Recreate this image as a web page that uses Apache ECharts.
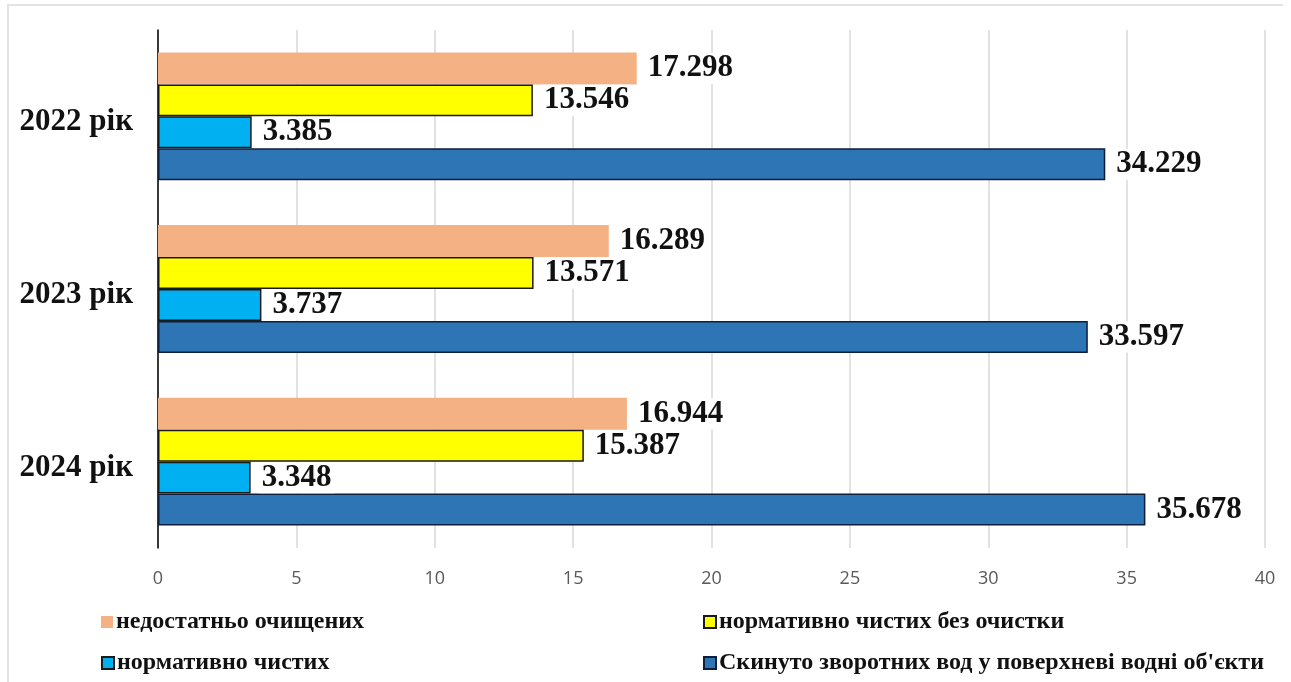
<!DOCTYPE html>
<html><head><meta charset="utf-8">
<script src="https://cdn.jsdelivr.net/npm/echarts@6/dist/echarts.min.js"></script>
<style>html,body{margin:0;padding:0;background:#fff}#c{width:1291px;height:682px}</style>
</head><body><div id="c"></div>
<script>
const categories = ['2022 рік', '2023 рік', '2024 рік'];
const seriesNames = ['недостатньо очищених', 'нормативно чистих без очистки', 'нормативно чистих', 'Скинуто зворотних вод у поверхневі водні об\'єкти'];
const insufficientlyTreated = [17.298, 16.289, 16.944];
const normCleanNoTreatment = [13.546, 13.571, 15.387];
const normClean = [3.385, 3.737, 3.348];
const totalDischarged = [34.229, 33.597, 35.678];
const xTicks = [0, 5, 10, 15, 20, 25, 30, 35, 40];

const colors = ['#F4B183', '#FFFF00', '#00B0F0', '#2E75B6'];
const borders = [null, '#1a1a1a', '#1a1a1a', '#0d1f3a'];
const dataSets = [insufficientlyTreated, normCleanNoTreatment, normClean, totalDischarged];
const serif = '"Liberation Serif","Times New Roman",serif';

const chart = echarts.init(document.getElementById('c'));
const series = seriesNames.map((n, i) => ({
  name: n, type: 'bar', data: dataSets[i],
  barGap: '0%', barCategoryGap: '26%',
  itemStyle: { color: colors[i], borderColor: borders[i] || colors[i], borderWidth: borders[i] ? 1.5 : 0 },
  label: {
    show: true, position: 'right', distance: 8,
    fontFamily: serif, fontWeight: 'bold', fontSize: 31, color: '#111',
    backgroundColor: '#fff', padding: [0, 3, 0, 3],
    formatter: p => p.value.toFixed(3)
  }
}));
const legendPos = [
  { left: 96, top: 605 }, { left: 698, top: 605 },
  { left: 96, top: 646 }, { left: 698, top: 646 }
];
const legends = seriesNames.map((n, i) => ({
  data: [n], left: legendPos[i].left, top: legendPos[i].top,
  itemWidth: 12, itemHeight: 12, itemGap: 0,
  icon: 'rect',
  textStyle: { fontFamily: serif, fontWeight: 'bold', fontSize: 24, color: '#111', padding: [0, 0, 0, -2] },
  selectedMode: false
}));
chart.setOption({
  animation: false,
  backgroundColor: '#fff',
  grid: { left: 158, right: 26, top: 30, bottom: 134, containLabel: false },
  xAxis: {
    type: 'value', min: 0, max: 40, interval: 5,
    axisLine: { show: false }, axisTick: { show: false },
    splitLine: { lineStyle: { color: '#d9d9d9', width: 1.5 } },
    axisLabel: { fontFamily: '"Open Sans","Liberation Sans",sans-serif', fontSize: 18, color: '#595959', margin: 22,
      formatter: v => xTicks.includes(v) ? String(v) : '' }
  },
  yAxis: {
    type: 'category', data: categories, inverse: true,
    axisLine: { lineStyle: { color: '#000', width: 1.5 } },
    axisTick: { show: false },
    axisLabel: {
      margin: 25,
      formatter: v => '{a|' + v + '}',
      rich: { a: { fontFamily: serif, fontWeight: 'bold', fontSize: 31, color: '#111', padding: [12, 0, 0, 0] } }
    }
  },
  legend: legends,
  graphic: [{
    type: 'polyline', silent: true,
    shape: { points: [[8, 690], [8, 5], [1283, 5]] },
    style: { stroke: '#e3e3e3', lineWidth: 2, fill: null }
  }],
  series: series
});
</script></body></html>
